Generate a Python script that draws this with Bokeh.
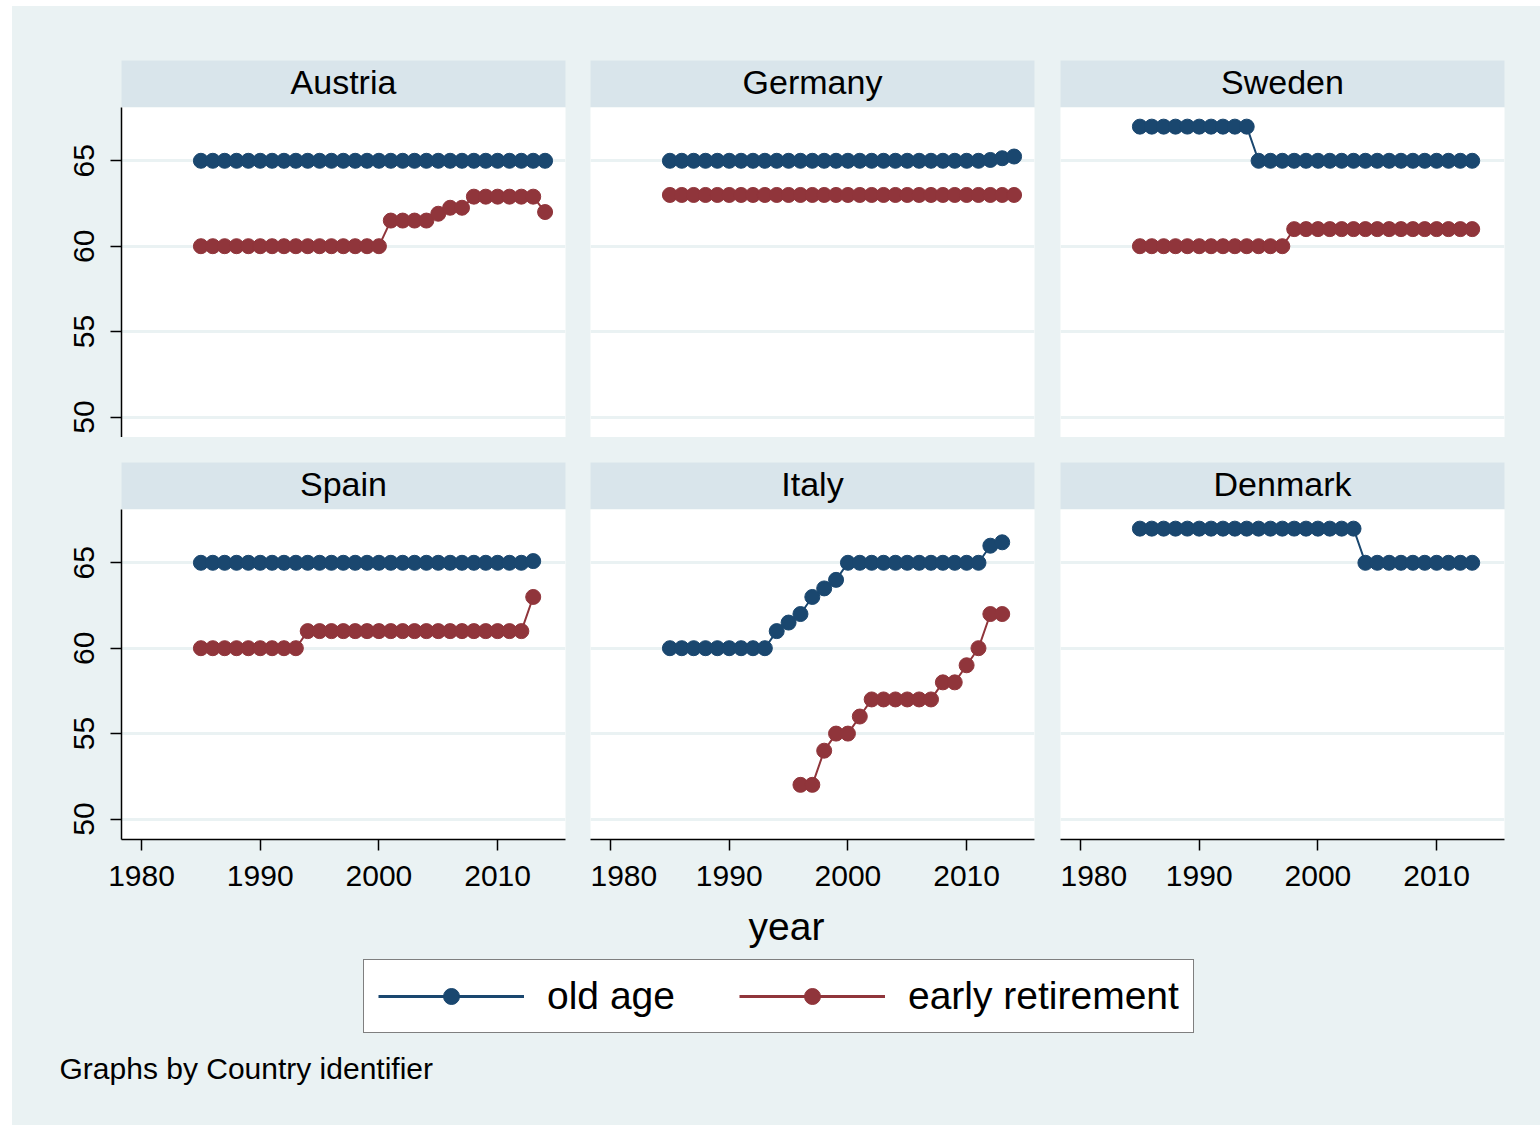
from bokeh.plotting import figure
from bokeh.layouts import column, row
from bokeh.models import (Range1d, LinearAxis, Grid, FixedTicker, Label, Legend,
                          LegendItem)
from bokeh.embed import file_html
from bokeh.resources import INLINE

# ---------------- data ----------------
countries = ["Austria", "Germany", "Sweden", "Spain", "Italy", "Denmark"]

austria_years = [1985, 1986, 1987, 1988, 1989, 1990, 1991, 1992, 1993, 1994, 1995, 1996, 1997, 1998, 1999,
                 2000, 2001, 2002, 2003, 2004, 2005, 2006, 2007, 2008, 2009, 2010, 2011, 2012, 2013, 2014]
austria_old = [65, 65, 65, 65, 65, 65, 65, 65, 65, 65, 65, 65, 65, 65, 65,
               65, 65, 65, 65, 65, 65, 65, 65, 65, 65, 65, 65, 65, 65, 65]
austria_early = [60, 60, 60, 60, 60, 60, 60, 60, 60, 60, 60, 60, 60, 60, 60,
                 60, 61.5, 61.5, 61.5, 61.5, 61.9, 62.25, 62.25, 62.9, 62.9, 62.9, 62.9, 62.9, 62.9, 62.0]

germany_years = [1985, 1986, 1987, 1988, 1989, 1990, 1991, 1992, 1993, 1994, 1995, 1996, 1997, 1998, 1999,
                 2000, 2001, 2002, 2003, 2004, 2005, 2006, 2007, 2008, 2009, 2010, 2011, 2012, 2013, 2014]
germany_old = [65, 65, 65, 65, 65, 65, 65, 65, 65, 65, 65, 65, 65, 65, 65,
               65, 65, 65, 65, 65, 65, 65, 65, 65, 65, 65, 65, 65.05, 65.15, 65.25]
germany_early = [63, 63, 63, 63, 63, 63, 63, 63, 63, 63, 63, 63, 63, 63, 63,
                 63, 63, 63, 63, 63, 63, 63, 63, 63, 63, 63, 63, 63, 63, 63]

sweden_years = [1985, 1986, 1987, 1988, 1989, 1990, 1991, 1992, 1993, 1994, 1995, 1996, 1997, 1998, 1999,
                2000, 2001, 2002, 2003, 2004, 2005, 2006, 2007, 2008, 2009, 2010, 2011, 2012, 2013]
sweden_old = [67, 67, 67, 67, 67, 67, 67, 67, 67, 67, 65, 65, 65, 65, 65,
              65, 65, 65, 65, 65, 65, 65, 65, 65, 65, 65, 65, 65, 65]
sweden_early = [60, 60, 60, 60, 60, 60, 60, 60, 60, 60, 60, 60, 60, 61, 61,
                61, 61, 61, 61, 61, 61, 61, 61, 61, 61, 61, 61, 61, 61]

spain_years = [1985, 1986, 1987, 1988, 1989, 1990, 1991, 1992, 1993, 1994, 1995, 1996, 1997, 1998, 1999,
               2000, 2001, 2002, 2003, 2004, 2005, 2006, 2007, 2008, 2009, 2010, 2011, 2012, 2013]
spain_old = [65, 65, 65, 65, 65, 65, 65, 65, 65, 65, 65, 65, 65, 65, 65,
             65, 65, 65, 65, 65, 65, 65, 65, 65, 65, 65, 65, 65, 65.1]
spain_early = [60, 60, 60, 60, 60, 60, 60, 60, 60, 61, 61, 61, 61, 61, 61,
               61, 61, 61, 61, 61, 61, 61, 61, 61, 61, 61, 61, 61, 63]

italy_years = [1985, 1986, 1987, 1988, 1989, 1990, 1991, 1992, 1993, 1994, 1995, 1996, 1997, 1998, 1999,
               2000, 2001, 2002, 2003, 2004, 2005, 2006, 2007, 2008, 2009, 2010, 2011, 2012, 2013]
italy_old = [60, 60, 60, 60, 60, 60, 60, 60, 60, 61, 61.5, 62, 63, 63.5, 64,
             65, 65, 65, 65, 65, 65, 65, 65, 65, 65, 65, 65, 66, 66.2]
italy_early_years = [1996, 1997, 1998, 1999, 2000, 2001, 2002, 2003, 2004, 2005, 2006, 2007,
                     2008, 2009, 2010, 2011, 2012, 2013]
italy_early = [52, 52, 54, 55, 55, 56, 57, 57, 57, 57, 57, 57, 58, 58, 59, 60, 62, 62]

denmark_years = [1985, 1986, 1987, 1988, 1989, 1990, 1991, 1992, 1993, 1994, 1995, 1996, 1997, 1998, 1999,
                 2000, 2001, 2002, 2003, 2004, 2005, 2006, 2007, 2008, 2009, 2010, 2011, 2012, 2013]
denmark_old = [67, 67, 67, 67, 67, 67, 67, 67, 67, 67, 67, 67, 67, 67, 67,
               67, 67, 67, 67, 65, 65, 65, 65, 65, 65, 65, 65, 65, 65]

x_ticks = [1980, 1990, 2000, 2010]
y_ticks = [50, 55, 60, 65]
series_names = ["old age", "early retirement"]
x_title = "year"
note = "Graphs by Country identifier"

panel_data = {
    "Austria": (austria_years, austria_old, austria_years, austria_early),
    "Germany": (germany_years, germany_old, germany_years, germany_early),
    "Sweden": (sweden_years, sweden_old, sweden_years, sweden_early),
    "Spain": (spain_years, spain_old, spain_years, spain_early),
    "Italy": (italy_years, italy_old, italy_early_years, italy_early),
    "Denmark": (denmark_years, denmark_old, None, None),
}

# ---------------- style ----------------
BG = "#EAF2F3"
STRIP = "#D9E5EB"
BLUE = "#1A476F"
RED = "#90353B"
GRID = "#EAF2F3"
FONT = "Liberation Sans"

X0, X1 = 1978.31, 2015.72
Y0, Y1 = 48.80, 68.12
FRAME_W, FRAME_H, STRIP_H = 444, 330, 47
col_left = [109, 0, 0]
col_right = [25, 26, 36]
TOTAL_W = 1528


def base_fig(width, height, left, right, top, bottom, xr, yr, bg):
    p = figure(width=width, height=height, x_range=xr, y_range=yr,
               x_axis_location=None, y_axis_location=None,
               min_border_left=left, min_border_right=right,
               min_border_top=top, min_border_bottom=bottom,
               background_fill_color=bg, border_fill_color=BG,
               outline_line_color=None, output_backend="svg",
               toolbar_location=None)
    p.center = [r for r in p.center if not isinstance(r, Grid)]
    return p


def header(name, ci, top):
    w = col_left[ci] + FRAME_W + col_right[ci]
    p = base_fig(w, top + STRIP_H, col_left[ci], col_right[ci], top, 0,
                 Range1d(0, 1), Range1d(0, 1), STRIP)
    p.add_layout(Label(x=0.5, y=0.54, text=name, text_align="center",
                       text_baseline="middle", text_font=FONT,
                       text_font_size="34px", text_color="black"))
    return p


def add_series(p, yo, vo, ye, ve):
    rs = [p.line(yo, vo, line_color=BLUE, line_width=2),
          p.scatter(yo, vo, size=15, fill_color=BLUE, line_color=BLUE)]
    if ye is not None:
        rs += [p.line(ye, ve, line_color=RED, line_width=2),
               p.scatter(ye, ve, size=15, fill_color=RED, line_color=RED)]
    return rs


def panel(name, ci, ri):
    w = col_left[ci] + FRAME_W + col_right[ci]
    bottom = 60 if ri == 1 else 0
    p = base_fig(w, FRAME_H + bottom, col_left[ci], col_right[ci], 0, bottom,
                 Range1d(X0, X1), Range1d(Y0, Y1), "white")
    p.add_layout(Grid(dimension=1, ticker=FixedTicker(ticks=y_ticks),
                      grid_line_color=GRID, grid_line_width=3))
    axis_style = dict(axis_line_color="black", axis_line_width=1.5,
                      major_tick_line_color="black", major_tick_line_width=1.5,
                      major_tick_out=11, major_tick_in=0, minor_tick_line_color=None,
                      major_label_text_font=FONT, major_label_text_font_size="30px",
                      major_label_text_color="black")
    if ci == 0:
        p.add_layout(LinearAxis(ticker=FixedTicker(ticks=y_ticks),
                                major_label_orientation="vertical",
                                major_label_standoff=16, **axis_style), "left")
    if ri == 1:
        p.add_layout(LinearAxis(ticker=FixedTicker(ticks=x_ticks),
                                major_label_standoff=15, **axis_style), "below")
    add_series(p, *panel_data[name])
    return p


h_row1 = row([header(countries[i], i, 54) for i in range(3)], spacing=0)
p_row1 = row([panel(countries[i], i, 0) for i in range(3)], spacing=0)
h_row2 = row([header(countries[3 + i], i, 25) for i in range(3)], spacing=0)
p_row2 = row([panel(countries[3 + i], i, 1) for i in range(3)], spacing=0)

# ---------------- footer: axis title, legend, note ----------------
FH = 226
f = base_fig(TOTAL_W, FH, 0, 0, 0, 0, Range1d(0, TOTAL_W), Range1d(0, FH), BG)
f.add_layout(Label(x=774, y=199, text=x_title, text_align="center",
                   text_baseline="middle", text_font=FONT,
                   text_font_size="39px", text_color="black"))
f.add_layout(Label(x=47, y=57, text=note, text_align="left",
                   text_baseline="middle", text_font=FONT,
                   text_font_size="30px", text_color="black"))

# legend glyph renderers (hidden in the footer; only drawn by the legend)
leg_r = add_series(f, *panel_data["Austria"])
for r in leg_r:
    r.visible = False
leg_r[0].glyph.line_width = 3
leg_r[2].glyph.line_width = 3
leg_r[1].glyph.size = 17
leg_r[3].glyph.size = 17

legend = Legend(items=[LegendItem(label=series_names[0], renderers=[leg_r[0], leg_r[1]]),
                       LegendItem(label=series_names[1], renderers=[leg_r[2], leg_r[3]])],
                orientation="horizontal", location=(351, 92),
                glyph_width=146, glyph_height=40, label_standoff=23, spacing=64,
                padding=14, margin=0, border_line_color="black",
                border_line_width=1.5, background_fill_color="white",
                background_fill_alpha=1.0, label_text_font=FONT,
                label_text_font_size="39px", label_text_color="black",
                label_height=40)
f.add_layout(legend)

root = column([h_row1, p_row1, h_row2, p_row2, f], spacing=0,
              margin=(6, 0, 0, 12), styles={"background-color": BG})

open("out.html", "w").write(file_html(root, INLINE))
